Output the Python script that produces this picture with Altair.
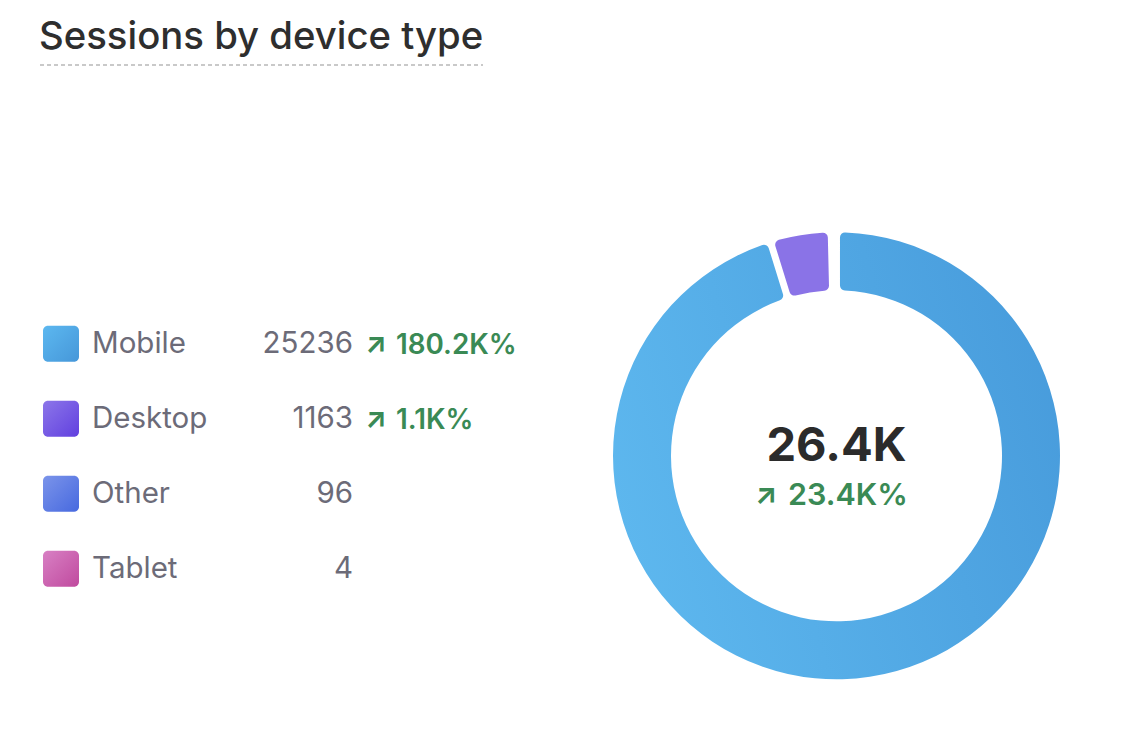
import math
import altair as alt
import pandas as pd

# ---- data ----
devices = ["Mobile", "Desktop", "Other", "Tablet"]
sessions = [25236, 1163, 96, 4]
changes = ["180.2K%", "1.1K%", "", ""]
title_text = "Sessions by device type"
center_value = "26.4K"
center_change = "23.4K%"

# ---- style ----
grad_light = ["#5cb8f0", "#8c76e9", "#7b94ea", "#d880c4"]
grad_dark = ["#4697d9", "#6140df", "#4769df", "#c04a9e"]
arc_light = ["#5db7ee", "#8a73e7", "#7b94ea", "#d880c4"]
arc_dark = ["#489cdc", "#8a73e7", "#4769df", "#c04a9e"]
GREEN = "#3a8a55"
GRAY = "#6c6b78"
FONT = "Inter"
CX, CY = 836.5, 455.8
R_OUT, R_IN = 223.5, 165.5

total = sum(sessions)
df = pd.DataFrame({"idx": list(range(len(devices))), "device": devices,
                   "sessions": sessions, "change": changes})
base = alt.Chart(df)

ypos = alt.Y("device:N", scale=alt.Scale(type="point", domain=devices,
                                         range=[343.7, 568.7], padding=0), axis=None)

def grad(light, dark, x1=0, y1=0, x2=1, y2=1):
    return alt.Gradient(
        gradient="linear",
        stops=[alt.GradientStop(color=light, offset=0),
               alt.GradientStop(color=dark, offset=1)],
        x1=x1, y1=y1, x2=x2, y2=y2,
    )

layers = []
# donut arcs
for i, d in enumerate(devices):
    arc = (
        base.transform_window(cum="sum(sessions)", sort=[alt.SortField("idx")])
        .transform_calculate(start="datum.cum - datum.sessions", end="datum.cum")
        .transform_filter(alt.datum.device == d)
        .mark_arc(innerRadius=R_IN, outerRadius=R_OUT, padAngle=0.025,
                  cornerRadius=5,
                  fill=grad(arc_light[i], arc_dark[i], 0, 0.6, 1, 0.3),
                  stroke=None)
        .encode(
            theta=alt.Theta("start:Q", stack=None,
                            scale=alt.Scale(domain=[0, total], range=[0, 2 * math.pi])),
            theta2=alt.Theta2("end:Q"),
            x=alt.value(CX), y=alt.value(CY),
        )
    )
    layers.append(arc)

# legend swatches
for i, d in enumerate(devices):
    sw = (
        base.transform_filter(alt.datum.device == d)
        .mark_rect(width=36, height=36, cornerRadius=5,
                   fill=grad(grad_light[i], grad_dark[i]))
        .encode(x=alt.value(61), y=ypos)
    )
    layers.append(sw)

labels = base.mark_text(align="left", baseline="alphabetic", dy=9.6, font=FONT,
                        fontSize=29.5, color=GRAY).encode(
    x=alt.value(92), y=ypos, text="device:N")
values = base.mark_text(align="right", baseline="alphabetic", dy=9.6, font=FONT,
                        fontSize=29.5, color=GRAY).encode(
    x=alt.value(353), y=ypos, text="sessions:Q")
arrows = base.transform_filter(alt.datum.change != "").mark_text(
    align="center", baseline="alphabetic", dy=9.5, font=FONT, fontSize=28,
    fontWeight="bold", color=GREEN, text="↗").encode(x=alt.value(376), y=ypos)
pcts = base.transform_filter(alt.datum.change != "").mark_text(
    align="left", baseline="alphabetic", dy=10, font=FONT, fontSize=27.8,
    fontWeight=600, color=GREEN).encode(x=alt.value(396), y=ypos, text="change:N")
layers += [labels, values, arrows, pcts]

tdf = alt.Chart(pd.DataFrame({"title": [title_text], "cv": [center_value],
                              "cc": [center_change]}))
title = tdf.mark_text(align="left", baseline="alphabetic", font=FONT, fontSize=38.3,
                      fontWeight=500, color="#2e2e2e").encode(
    x=alt.value(39), y=alt.value(49), text="title:N")
underline = tdf.mark_rule(color="#c9c9c9", strokeWidth=2, strokeDash=[4, 3]).encode(
    x=alt.value(40), x2=alt.value(483), y=alt.value(65))
cval = tdf.mark_text(align="center", baseline="alphabetic", font=FONT, fontSize=47,
                     fontWeight="bold", color="#2b2b2b").encode(
    x=alt.value(CX), y=alt.value(461), text="cv:N")
carrow = tdf.mark_text(align="center", baseline="alphabetic", font=FONT, fontSize=29,
                       fontWeight="bold", color=GREEN, text="↗").encode(
    x=alt.value(766), y=alt.value(504))
cchg = tdf.mark_text(align="left", baseline="alphabetic", font=FONT, fontSize=30.5,
                     fontWeight=600, color=GREEN).encode(
    x=alt.value(788), y=alt.value(505), text="cc:N")
layers += [title, underline, cval, carrow, cchg]

chart = alt.layer(*layers).properties(
    width=1125, height=750, autosize="none", padding=0,
    background="white",
).configure_view(stroke=None)

chart.save("out.html", embed_options={"renderer": "svg", "actions": False})
